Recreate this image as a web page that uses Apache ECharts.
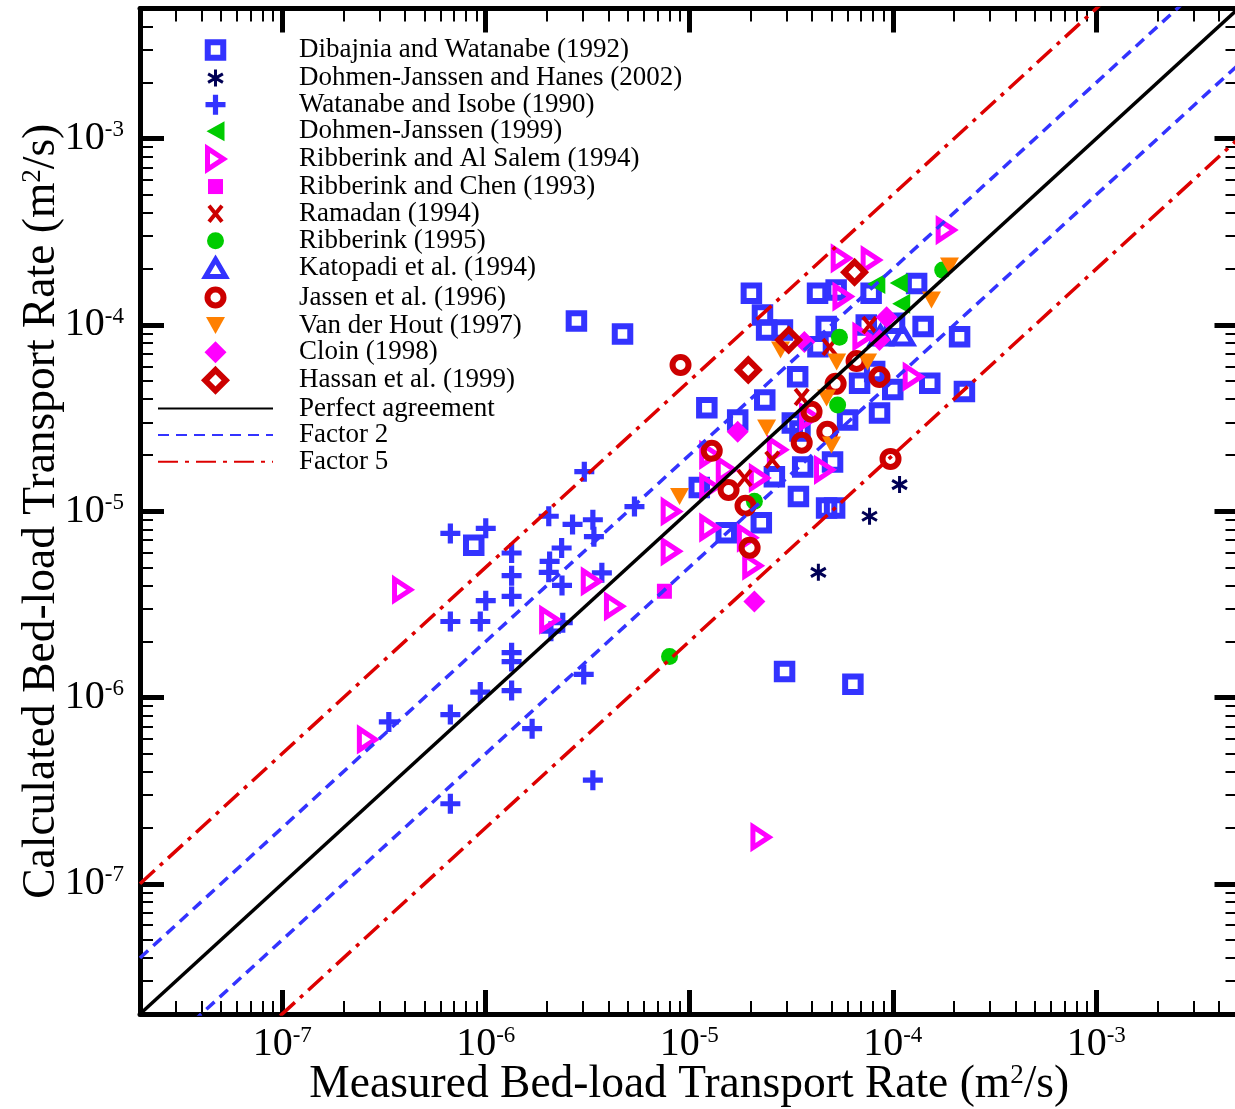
<!DOCTYPE html>
<html>
<head>
<meta charset="utf-8">
<script src="https://cdn.jsdelivr.net/npm/echarts@6/dist/echarts.min.js"></script>
<style>
  html, body { margin: 0; padding: 0; background: #fff; }
  #chart { width: 1235px; height: 1109px; }
</style>
</head>
<body>
<div id="chart"></div>
<script>
// measured / calculated bed-load transport rates (m2/s), [measured, calculated]
const dibajnia = [
  [2.79e-6, 1.05e-4], [4.70e-6, 8.95e-5], [8.73e-7, 6.56e-6], [2.94e-5, 1.38e-6], [6.37e-5, 1.18e-6],
  [2.02e-5, 1.48e-4], [2.29e-5, 1.13e-4], [2.40e-5, 9.4e-5], [2.87e-5, 9.4e-5], [4.27e-5, 1.48e-4],
  [5.27e-5, 1.54e-4], [7.83e-5, 1.48e-4], [1.31e-4, 1.67e-4], [4.71e-5, 9.8e-5], [7.41e-5, 1.0e-4],
  [1.02e-4, 1.02e-4], [1.41e-4, 9.8e-5], [2.13e-4, 8.65e-5], [4.29e-5, 7.65e-5], [3.41e-5, 5.28e-5],
  [6.87e-5, 4.87e-5], [8.15e-5, 5.62e-5], [1.0e-4, 4.5e-5], [1.52e-4, 4.87e-5], [2.25e-4, 4.39e-5],
  [8.61e-5, 3.37e-5], [6.0e-5, 3.09e-5], [3.61e-5, 1.73e-5], [5.06e-5, 1.84e-5], [3.44e-5, 1.2e-5],
  [4.73e-5, 1.04e-5], [5.18e-5, 1.04e-5], [1.22e-5, 3.59e-5], [2.35e-5, 3.96e-5], [1.73e-5, 3.09e-5],
  [1.12e-5, 1.34e-5], [2.62e-5, 1.53e-5], [1.52e-5, 7.67e-6], [2.26e-5, 8.67e-6], [3.21e-5, 2.98e-5],
  [3.50e-5, 2.70e-5]
];
const dohmenHanes = [[1.08e-4, 1.39e-5], [7.69e-5, 9.4e-6], [4.31e-5, 4.70e-6]];
const watanabe = [
  [3.05e-6, 1.63e-5], [5.38e-6, 1.06e-5], [2.04e-6, 9.4e-6], [2.67e-6, 8.5e-6], [3.36e-6, 9.0e-6],
  [3.40e-6, 7.3e-6], [6.7e-7, 7.6e-6], [1.0e-6, 8.1e-6], [1.34e-6, 5.97e-6], [2.36e-6, 6.35e-6],
  [2.06e-6, 5.38e-6], [2.04e-6, 4.70e-6], [2.37e-6, 4.0e-6], [1.34e-6, 4.51e-6], [1.34e-6, 3.49e-6],
  [1.0e-6, 3.31e-6], [6.7e-7, 2.56e-6], [9.4e-7, 2.56e-6], [3.72e-6, 4.67e-6], [2.39e-6, 2.52e-6],
  [2.09e-6, 2.27e-6], [1.34e-6, 1.74e-6], [1.34e-6, 1.56e-6], [9.4e-7, 1.07e-6], [1.34e-6, 1.09e-6],
  [6.7e-7, 8.1e-7], [3.34e-7, 7.4e-7], [3.03e-6, 1.33e-6], [1.69e-6, 6.8e-7], [3.36e-6, 3.6e-7],
  [6.7e-7, 2.69e-7]
];
const dohmen1999 = [[8.3e-5, 1.66e-4], [1.07e-4, 1.68e-4], [1.10e-4, 1.30e-4]];
const alSalem = [
  [1.83e-4, 3.23e-4], [5.58e-5, 2.28e-4], [7.83e-5, 2.23e-4], [5.69e-5, 1.42e-4], [1.26e-4, 5.28e-5],
  [7.13e-5, 8.65e-5], [4.62e-5, 1.67e-5], [2.05e-5, 5.1e-6], [2.25e-5, 1.78e-7], [3.9e-7, 3.79e-6],
  [2.62e-7, 5.96e-7], [3.30e-6, 4.2e-6], [4.29e-6, 3.09e-6], [2.06e-6, 2.62e-6], [8.15e-6, 9.97e-6],
  [8.15e-6, 6.09e-6], [1.26e-5, 2.01e-5], [1.26e-5, 1.35e-5], [1.52e-5, 1.67e-5], [1.26e-5, 8.16e-6],
  [1.93e-5, 7.21e-6], [2.71e-5, 2.14e-5], [2.21e-5, 1.51e-5], [3.90e-5, 3.21e-5]
];
const chen = [[7.55e-6, 3.72e-6]];
const ramadan = [[3.57e-5, 4.11e-5], [2.56e-5, 1.89e-5], [1.87e-5, 1.51e-5], [4.89e-5, 7.62e-5], [7.69e-5, 1.0e-4]];
const ribberink1995 = [[1.76e-4, 1.97e-4], [5.47e-5, 8.6e-5], [5.36e-5, 3.72e-5], [2.09e-5, 1.13e-5], [8.0e-6, 1.66e-6]];
const katopadi = [[8.71e-5, 8.73e-5], [1.12e-4, 8.73e-5]];
const jassen = [
  [9.06e-6, 6.1e-5], [1.29e-5, 2.11e-5], [1.56e-5, 1.30e-5], [1.89e-5, 1.07e-5], [1.98e-5, 6.37e-6],
  [3.57e-5, 2.33e-5], [4.77e-5, 2.67e-5], [3.99e-5, 3.42e-5], [5.24e-5, 4.83e-5], [6.64e-5, 6.41e-5],
  [8.61e-5, 5.26e-5], [9.75e-5, 1.91e-5]
];
const vanDerHout = [
  [1.90e-4, 2.07e-4], [1.55e-4, 1.36e-4], [2.81e-5, 7.35e-5], [5.30e-5, 6.33e-5], [7.52e-5, 6.33e-5],
  [2.40e-5, 2.80e-5], [8.96e-6, 1.20e-5], [5.0e-5, 2.27e-5], [4.73e-5, 4.06e-5]
];
const cloin = [[9.33e-5, 1.10e-4], [8.61e-5, 8.31e-5], [1.73e-5, 2.67e-5], [2.09e-5, 3.28e-6], [3.68e-5, 8.1e-5]];
const hassan = [[6.49e-5, 1.92e-4], [3.08e-5, 8.31e-5], [1.95e-5, 5.74e-5]];

// reference lines y = k * x
const lineX = [2e-8, 5e-3];
const perfectK = [1];
const factor2K = [2, 0.5];
const factor5K = [5, 0.2];

// axis range and ticks
const axisMin = 2e-8;
const axisMax = 5e-3;
const majorTicks = [1e-7, 1e-6, 1e-5, 1e-4, 1e-3];
const minorTicks = [];
for (let e = -8; e <= -3; e++) {
  for (let m = 2; m <= 9; m++) {
    const v = Number((m * Math.pow(10, e)).toPrecision(3));
    if (v >= axisMin && v <= axisMax) minorTicks.push(v);
  }
}

const BLUE = '#3333ff';
const NAVY = '#000055';
const GREEN = '#00cc00';
const MAGENTA = '#ff00ff';
const RED = '#cc0000';
const ORANGE = '#ff8000';
const FONT = 'Liberation Serif';
const NONE = 'rgba(0,0,0,0)';

// every marker sits in the same 24x24 frame so legend and plot sizes match
const BOX = 24;
const sym = d => 'path://M-12,-12M12,12' + d;
const SQUARE = sym('M-7.75,-7.75H7.75V7.75H-7.75Z');
const ASTER = sym('M0,-8.5V8.5M-7.4,-4.25L7.4,4.25M-7.4,4.25L7.4,-4.25');
const PLUS = sym('M-2.6,-10H2.6V-2.6H10V2.6H2.6V10H-2.6V2.6H-10V-2.6H-2.6Z');
const TRI_LEFT = sym('M9,-10L-9,0L9,10Z');
const TRI_RIGHT = sym('M-8,-10.5L8,0L-8,10.5Z');
const SQUARE_S = sym('M-7.5,-7.5H7.5V7.5H-7.5Z');
const CROSS = sym('M-6.5,-8L6.5,8M6.5,-8L-6.5,8');
const DOT = sym('M8.5,0A8.5,8.5,0,1,1,-8.5,0A8.5,8.5,0,1,1,8.5,0Z');
const TRI_UP = sym('M0,-9L10,8L-10,8Z');
const RING = sym('M8,0A8,8,0,1,1,-8,0A8,8,0,1,1,8,0Z');
const TRI_DOWN = sym('M-9.5,-8.5H9.5L0,8.5Z');
const DIAMOND = sym('M0,-11L11,0L0,11L-11,0Z');
const DIAMOND_O = sym('M0,-10.3L10.3,0L0,10.3L-10.3,0Z');

function scatter(name, data, symbol, itemStyle) {
  return {
    type: 'scatter', name, data, symbol, symbolSize: BOX,
    itemStyle: Object.assign({ opacity: 1 }, itemStyle),
    z: 2, emphasis: { disabled: true }, silent: true
  };
}

function refLine(name, k, color, width, dash) {
  return {
    type: 'line', name, data: lineX.map(x => [x, x * k]),
    symbol: 'none', clip: true, z: 5, silent: true,
    itemStyle: { color: NONE },
    lineStyle: { color, width, type: dash }
  };
}

const labelFmt = v => '{b|10}{s|' + Math.round(Math.log10(v)) + '}';
const labelRich = {
  b: { fontFamily: FONT, fontSize: 40, color: '#000' },
  s: { fontFamily: FONT, fontSize: 23, color: '#000', verticalAlign: 'top' }
};
const nameRich = {
  n: { fontFamily: FONT, fontSize: 45.5, color: '#000' },
  s: { fontFamily: FONT, fontSize: 27, color: '#000', verticalAlign: 'top' }
};

function axis(position, major, extra) {
  const ax = {
    type: 'log', logBase: 10, min: axisMin, max: axisMax, position,
    splitLine: { show: false },
    axisLine: { show: major, onZero: false, lineStyle: { color: '#000', width: 5 } },
    axisTick: {
      show: true, inside: true,
      length: major ? 24 : 13,
      lineStyle: { color: '#000', width: major ? 5 : 2 },
      customValues: major ? majorTicks : minorTicks
    },
    axisLabel: { show: false }
  };
  return Object.assign(ax, extra || {});
}

const chart = echarts.init(document.getElementById('chart'));

const noDot = { color: NONE, borderWidth: 0 };
const legendData = [
  { name: 'Dibajnia and Watanabe (1992)', itemStyle: { borderWidth: 6 } },
  { name: 'Dohmen-Janssen and Hanes (2002)', itemStyle: { borderWidth: 3 } },
  { name: 'Watanabe and Isobe (1990)' },
  { name: 'Dohmen-Janssen (1999)' },
  { name: 'Ribberink and Al Salem (1994)', itemStyle: { borderWidth: 5 } },
  { name: 'Ribberink and Chen (1993)' },
  { name: 'Ramadan (1994)', itemStyle: { borderWidth: 4 } },
  { name: 'Ribberink (1995)' },
  { name: 'Katopadi et al. (1994)', itemStyle: { borderWidth: 5 } },
  { name: 'Jassen et al. (1996)', itemStyle: { borderWidth: 6 } },
  { name: 'Van der Hout (1997)' },
  { name: 'Cloin (1998)' },
  { name: 'Hassan et al. (1999)', itemStyle: { borderWidth: 6 } },
  { name: 'Perfect agreement', itemStyle: noDot },
  { name: 'Factor 2', itemStyle: noDot },
  { name: 'Factor 5', itemStyle: noDot }
];

chart.setOption({
  animation: false,
  backgroundColor: '#fff',
  grid: { left: 140, right: -3.5, top: 8.5, bottom: 95, outerBoundsMode: 'none' },
  legend: {
    orient: 'vertical', left: 157, top: 35, padding: 0,
    itemWidth: 115, itemHeight: BOX, itemGap: -0.39,
    selectedMode: false,
    data: legendData,
    formatter: name => '{p| }{t|' + name + '}',
    textStyle: {
      fontFamily: FONT, fontSize: 27, color: '#000', lineHeight: 24,
      rich: {
        p: { width: 21, lineHeight: 24 },
        t: { fontFamily: FONT, fontSize: 27, color: '#000', lineHeight: 24 }
      }
    }
  },
  xAxis: [
    axis('bottom', true, {
      axisLabel: { show: true, customValues: majorTicks, formatter: labelFmt, rich: labelRich, margin: 10 },
      name: '{n|Measured Bed-load Transport Rate (m}{s|2}{n|/s)}',
      nameLocation: 'middle', nameGap: 48, nameMoveOverlap: false,
      nameTextStyle: { rich: nameRich }
    }),
    axis('bottom', false),
    axis('top', true),
    axis('top', false)
  ],
  yAxis: [
    axis('left', true, {
      axisLabel: { show: true, customValues: majorTicks, formatter: labelFmt, rich: labelRich, margin: 16 },
      name: '{n|Calculated Bed-load Transport Rate (m}{s|2}{n|/s)}',
      nameLocation: 'middle', nameGap: 75, nameRotate: 90, nameMoveOverlap: false,
      nameTextStyle: { rich: nameRich }
    }),
    axis('left', false),
    axis('right', true),
    axis('right', false)
  ],
  series: [
    scatter('Dibajnia and Watanabe (1992)', dibajnia, SQUARE, { color: NONE, borderColor: BLUE, borderWidth: 6 }),
    scatter('Dohmen-Janssen and Hanes (2002)', dohmenHanes, ASTER, { color: NONE, borderColor: NAVY, borderWidth: 3 }),
    scatter('Watanabe and Isobe (1990)', watanabe, PLUS, { color: BLUE }),
    scatter('Dohmen-Janssen (1999)', dohmen1999, TRI_LEFT, { color: GREEN }),
    scatter('Ribberink and Al Salem (1994)', alSalem, TRI_RIGHT, { color: NONE, borderColor: MAGENTA, borderWidth: 5 }),
    scatter('Ribberink and Chen (1993)', chen, SQUARE_S, { color: MAGENTA }),
    scatter('Ramadan (1994)', ramadan, CROSS, { color: NONE, borderColor: RED, borderWidth: 4 }),
    scatter('Ribberink (1995)', ribberink1995, DOT, { color: GREEN }),
    scatter('Katopadi et al. (1994)', katopadi, TRI_UP, { color: NONE, borderColor: BLUE, borderWidth: 5 }),
    scatter('Jassen et al. (1996)', jassen, RING, { color: NONE, borderColor: RED, borderWidth: 6 }),
    scatter('Van der Hout (1997)', vanDerHout, TRI_DOWN, { color: ORANGE }),
    scatter('Cloin (1998)', cloin, DIAMOND, { color: MAGENTA }),
    scatter('Hassan et al. (1999)', hassan, DIAMOND_O, { color: NONE, borderColor: RED, borderWidth: 6 }),
    ...perfectK.map(k => refLine('Perfect agreement', k, '#000', 3.5, 'solid')),
    ...factor2K.map(k => refLine('Factor 2', k, BLUE, 3.5, [11, 7])),
    ...factor5K.map(k => refLine('Factor 5', k, '#dd0000', 3.5, [20, 7, 4, 7]))
  ]
});
</script>
</body>
</html>
